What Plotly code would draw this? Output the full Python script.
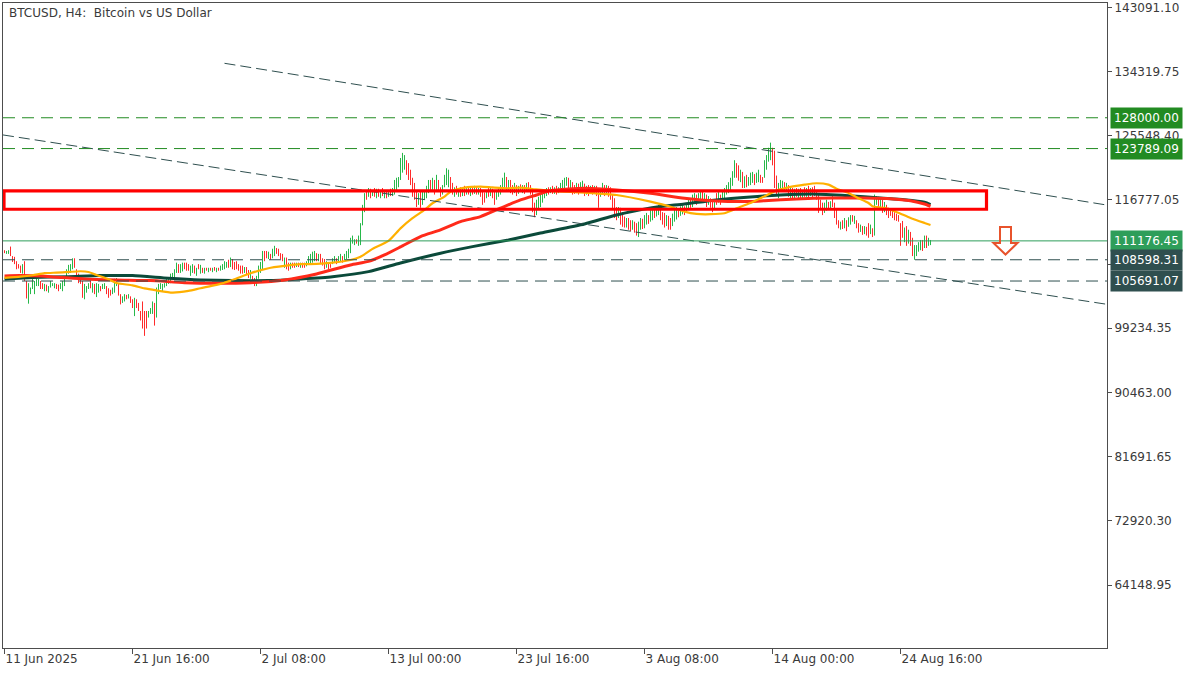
import plotly.graph_objects as go
import pandas as pd

# ---------------- data ----------------
START = pd.Timestamp("2025-06-11 00:00")
BAR_HOURS = 4

opens = [
    109900,109500,109600,110100,109100,108800,
    108300,107900,107600,106900,108000,105700,
    103000,104000,104700,104200,105200,105200,
    105600,105300,104500,105100,104200,104800,
    105100,104900,105200,105000,104700,104500,
    105000,106100,106800,107000,107400,108600,
    107300,106600,106000,105600,103500,104200,
    104700,105600,104400,105200,103800,104300,
    105000,104700,104800,104900,104600,104300,
    103900,104100,105200,105300,103900,102800,
    103000,103700,103400,103500,103000,101200,
    103000,102500,101600,102600,100800,100900,
    100800,101300,101300,102600,100900,104000,
    104700,104500,104900,105100,105400,105500,
    106100,106300,107000,108000,107000,107200,
    108100,108000,107900,106600,107000,107700,
    106600,107900,106800,107400,106800,107400,
    107000,107400,107000,107500,107000,107400,
    107200,107300,107500,107600,108500,107700,
    108600,108200,108300,107900,107600,107600,
    106900,107500,107100,106100,106300,106000,
    105100,106100,107000,107500,109700,109600,
    108900,109300,108900,109300,110100,110000,
    109400,109300,107600,108800,108100,107400,
    108100,108100,107700,108100,107600,108100,
    108000,107800,108000,108200,108300,108600,
    109400,108500,109300,108700,108600,107600,
    108100,108000,108100,108300,108800,108400,
    108500,109100,108500,108800,109000,109700,
    110900,110800,111400,110700,110800,113400,
    115200,118000,117300,118200,117300,118200,
    117200,118100,117200,118200,117200,117900,
    117200,118100,117400,117600,118400,118900,
    119500,120800,121200,122100,121700,120800,
    119700,119000,118000,116200,117800,116300,
    117000,117300,117900,119300,118300,119300,
    118300,119300,118500,117600,118600,118900,
    119200,119800,119000,117300,118600,117300,
    118400,117400,118600,117600,118400,117500,
    118300,117700,118400,117600,118300,118000,
    117700,117100,118300,117500,118100,118000,
    116900,117300,117600,118300,118600,119800,
    118100,119300,118600,117800,118700,117700,
    118900,117900,118700,118000,119000,118700,
    118000,116300,114900,115600,115900,116500,
    117100,117400,118500,117800,118600,117700,
    118600,117800,118000,118400,118600,118800,
    119700,118300,119100,118700,117800,118800,
    117900,118200,118900,117600,118600,117700,
    118600,117700,118600,118000,117300,117800,
    118700,117600,118600,118400,117300,116900,
    115700,114500,115600,115000,114400,113100,
    114200,114000,112800,113800,113500,111900,
    112800,114100,113000,113500,114600,113800,
    114200,115400,114600,114900,115800,115000,
    114800,113300,114500,114200,113300,113900,
    114300,115500,114700,115000,115900,115000,
    115500,116600,115900,116400,117400,116600,
    117000,117800,116700,117400,116200,117000,
    116400,115500,117600,116500,117400,116600,
    117300,117700,118000,118500,119000,120000,
    121600,121400,119400,120500,118500,120000,
    118700,119000,119300,120300,119200,119400,
    120100,119800,119900,121000,122100,122500,
    123800,123200,120000,117300,118300,118400,
    119100,118200,118600,117300,118300,117000,
    118300,117000,118300,117100,118400,117400,
    118600,117400,118400,118500,118000,117300,
    116600,116200,115100,115400,116400,115600,
    117100,116200,115300,114000,113000,113900,
    113000,114000,113200,113500,114600,113700,
    114000,113600,112500,113200,112300,113000,
    113400,112200,112800,112000,116200,117000,
    115600,116700,115300,116000,115500,115400,
    115300,115000,114800,114600,113600,113800,
    111200,113000,110900,112300,111500,108700,
    109300,110000,110100,111000,110400,111700,
    110600,110800,
]

highs = [
    109900,109800,109900,110400,109100,109000,
    108400,108000,107800,108000,108400,105700,
    105400,104800,106000,105700,106100,106000,
    105700,105400,105300,105200,105000,105700,
    105400,105400,105300,105200,105400,105700,
    106100,107300,107900,108000,108800,108800,
    107300,106700,106100,105700,105300,105000,
    105400,105700,105400,105300,105400,105300,
    105000,105300,105400,105000,104700,104500,
    104800,106000,106100,105400,103900,103600,
    103900,103800,103900,103600,103200,103400,
    103200,102700,101600,102900,101600,101600,
    101600,102000,102900,102700,104800,105300,
    105400,105300,105400,106000,106100,106700,
    106800,107300,108200,108000,108000,108200,
    108200,108200,108000,107800,108000,107800,
    107500,108000,107900,107500,107500,107500,
    107500,107500,107500,107600,107500,107500,
    107800,108000,108400,108300,108600,108900,
    108700,108300,108400,108000,107800,107800,
    107600,107600,107200,107200,106400,106100,
    106400,107800,108300,109800,109800,109800,
    109700,109400,110100,110500,110200,110100,
    109500,109400,108900,108900,108200,108200,
    108200,108200,108200,108200,108200,108200,
    108200,108400,109100,109400,109700,109800,
    109500,109400,109400,108800,108700,108400,
    108200,108000,108800,109100,108800,109100,
    109400,109100,109400,109800,110100,111600,
    111900,111400,111400,111900,113600,116100,
    117700,118100,118400,118300,118100,118400,
    118300,118300,118100,118400,118100,118100,
    118100,118300,118400,119500,119800,119900,
    122500,123200,122900,122200,121800,120900,
    119800,119100,118100,117700,117900,118100,
    118100,118700,119500,119500,119800,119500,
    120200,119500,118500,118800,120200,121100,
    120900,119900,119100,118500,118700,118400,
    118500,118400,118700,118400,118500,118400,
    118400,118700,118500,118400,118400,118100,
    117800,118100,118400,118500,118300,118100,
    117900,118400,118800,119800,120500,119900,
    119500,119500,118800,119100,118800,118700,
    118900,118800,118800,119100,119200,118800,
    118100,116400,116800,117200,117500,117900,
    118100,118400,118500,118500,118700,118500,
    118700,118500,119100,119500,119800,119900,
    119800,119500,119200,118800,119100,119000,
    119200,119400,119000,118700,118800,118700,
    118800,118700,118700,118100,118400,119100,
    118800,118800,118700,118500,117500,117000,
    115800,115800,115700,115100,114500,114300,
    114300,114000,114000,113800,113600,113800,
    114300,114200,114700,115000,114700,115400,
    115700,115500,115800,116100,115800,115100,
    115000,114700,114600,114300,114900,115400,
    115800,115600,115900,116200,115900,116300,
    116800,116800,117500,117700,117500,117700,
    118100,117900,117700,117500,117300,117000,
    116500,116800,117700,117900,117500,117900,
    118400,118800,119200,119800,120700,122200,
    121800,121500,120900,120600,120000,120200,
    119900,120500,120600,120300,120500,120900,
    120200,119900,122200,122900,123900,124600,
    123900,123500,120100,119100,119500,119400,
    119200,119100,118800,118400,118400,118300,
    118400,118300,118400,118100,118500,118400,
    118700,118400,118500,118700,118100,117500,
    116800,116400,116400,116800,116500,116600,
    117300,116400,115400,114000,113800,114000,
    114300,114000,114400,114700,114700,114600,
    114000,113600,113400,113200,113200,113100,
    113600,113400,112900,117500,117300,117200,
    117000,116800,116500,116100,115700,115500,
    115400,115100,114900,114700,113600,113900,
    113000,113200,112700,112400,111600,110600,
    110600,111000,111300,111300,111900,111900,
    111600,111300,
]

lows = [
    109500,109400,109400,109100,108300,108000,
    107300,107400,106800,106700,105700,103300,
    102600,103900,104600,103900,105000,105000,
    104600,104600,104300,104300,104100,104800,
    105000,104700,104600,104300,104600,104300,
    105000,106100,106700,106800,107300,107500,
    106000,105400,105300,103400,103200,104100,
    104600,104700,104100,103900,103500,104100,
    104300,104600,104600,103900,103400,103700,
    103900,104100,105000,103700,102500,102700,
    102900,103200,103300,102700,102000,100900,
    102000,101600,100300,99200,98200,99200,
    100700,101200,101200,99600,100700,103900,
    104600,104300,104800,105000,105300,105400,
    106000,106100,106800,106800,106800,107000,
    107300,107100,107100,106400,106800,106700,
    106400,107300,106700,106800,106700,107100,
    106900,107100,106900,107100,106900,107100,
    107100,107200,107300,107500,107500,107600,
    107300,107200,107300,107100,106700,106700,
    106800,106500,106100,106000,105300,105000,
    105000,106000,106800,107300,108400,108800,
    108700,108600,108800,109100,109400,109100,
    108700,108400,107500,107300,107100,107300,
    107500,107500,107600,107600,107500,107500,
    107500,107700,107900,108000,108200,108400,
    108400,108400,108000,107800,107300,107500,
    107300,107500,108000,108200,108000,108300,
    108400,108200,108400,108700,108800,109500,
    110800,110600,110800,110500,110600,113300,
    115100,116800,117200,117000,117300,117200,
    117000,117200,117000,117300,117000,117000,
    117200,117300,117300,117500,118100,118500,
    119500,120500,120900,120200,119500,118800,
    117200,116800,115800,116100,115700,116100,
    116800,117000,117700,117900,118100,117500,
    118100,117900,117200,117500,118500,118800,
    118500,118100,117500,117200,117500,117200,
    117200,117300,117300,117500,117500,117300,
    117500,117600,117500,117500,117200,116100,
    116400,117000,117200,117300,117000,116100,
    116800,117200,117500,118100,118400,118100,
    117900,117700,117500,117700,117300,117600,
    117900,117700,117600,117900,117900,117500,
    115100,114400,114700,115400,115800,116400,
    117000,117300,117500,117700,117600,117600,
    117500,117700,118000,118100,118400,118700,
    118100,118100,117500,117600,117700,117500,
    117900,118000,117300,117500,117300,117600,
    117500,117700,117300,115700,117200,117700,
    117300,117500,117200,116800,115400,114300,
    114000,114300,113400,113100,113000,113000,
    112700,112500,112700,112300,111900,111700,
    112700,112800,112900,113400,113500,113800,
    114000,114300,114500,114700,114000,113400,
    113000,113200,112700,112700,113200,113800,
    114100,114400,114600,114800,114700,115000,
    115400,115700,115800,116400,116100,116500,
    116800,116400,116500,115800,116100,115700,
    115100,115400,116100,116400,116100,116500,
    117000,117500,117700,118100,118700,119800,
    119800,119400,119200,118400,118400,118500,
    118700,118800,119100,118800,119100,119200,
    119100,119100,119800,120900,122000,122200,
    121500,118400,117500,117000,117900,118100,
    117900,118000,117200,117000,116800,116900,
    117200,116800,117000,116900,117200,117200,
    117000,117300,116900,117300,116800,115000,
    115400,114700,115000,115300,115400,115400,
    115800,114300,113400,112900,112700,112800,
    112900,112500,113100,113400,113800,113500,
    112900,112300,112400,112000,112100,111900,
    111600,112100,111700,111900,116100,115700,
    115400,115000,115100,114700,114300,114600,
    114300,114000,113900,113800,110500,111600,
    111000,110500,110800,110500,109100,108600,
    109100,109700,109900,109800,110200,110200,
    110500,110600,
]

closes = [
    109600,109700,109800,109300,108500,108200,
    107500,107500,107000,107800,105900,103600,
    105000,104600,105800,105400,105800,105800,
    104800,104800,105100,104400,104900,105600,
    105300,105300,104800,104400,105300,105500,
    105900,107100,107700,107800,108600,107700,
    106200,105600,105400,103700,105000,104800,
    105200,104900,105000,104100,105100,105000,
    104500,105100,105300,104100,103600,103800,
    104600,105700,105900,103900,102700,103400,
    103700,103300,103800,102900,102200,103000,
    102200,101800,100500,99600,98800,99600,
    101400,101800,102600,100000,104400,105100,
    105300,105100,105300,105800,106000,106400,
    106700,107100,108000,107000,107800,108000,
    107500,107300,107200,107600,107800,106900,
    107300,107400,107800,106900,107400,107200,
    107400,107200,107400,107200,107400,107200,
    107600,107900,108300,108200,107700,108700,
    107500,107300,107500,107200,106800,106800,
    107500,106700,106300,107000,105500,105200,
    106200,107600,108100,109600,108600,109000,
    109500,108700,109900,110300,109500,109300,
    108800,108500,108700,107500,107300,108000,
    107600,107600,108100,107700,108100,107600,
    107600,108300,109000,109200,109500,109600,
    108600,109300,108200,107900,107500,108300,
    107500,107600,108700,109000,108100,109000,
    109300,108300,109300,109600,109900,111400,
    111700,111300,110900,111700,113400,115900,
    117500,117000,118200,117200,118000,117400,
    118100,117400,117900,117500,117900,117200,
    118000,117500,118300,119300,119600,119800,
    122300,123000,122700,120400,119700,119000,
    117400,117000,116000,117500,115900,117900,
    117900,118500,119300,118100,119600,117700,
    120000,118100,117400,118600,120000,120900,
    120700,118300,117700,118300,117700,118200,
    117400,118200,117500,118300,117600,118200,
    117600,118500,117600,118300,117300,116300,
    116600,117900,117400,118400,117200,116300,
    117700,118200,118600,119600,120300,118300,
    119300,117900,117600,118900,117500,118500,
    118000,118600,117700,118900,118100,117600,
    115400,114600,116600,117000,117300,117700,
    118000,118300,117600,118400,117700,118400,
    117600,118400,118900,119300,119600,119800,
    118300,119300,117700,117800,118900,117600,
    119000,119200,117500,118500,117500,118500,
    117600,118600,117500,116000,118200,118900,
    117500,118600,117400,117000,115600,114500,
    114200,115600,113600,113300,113100,114100,
    112900,112700,113800,112500,112100,113600,
    114100,113000,114500,114800,113700,115200,
    115500,114500,115600,115900,114200,113600,
    113200,114500,112900,112800,114700,115200,
    115600,114600,115700,116000,114900,116100,
    116600,115800,117300,117500,116300,117600,
    117900,116600,117600,116000,117100,115900,
    115300,116600,116300,117700,116300,117700,
    118200,118600,119000,119600,120500,122000,
    120000,119600,120700,118600,119800,118700,
    119800,120300,120400,119000,120300,120700,
    119300,119200,122000,122700,123700,124400,
    121700,118700,117700,118900,119300,119200,
    118100,118900,117400,118200,117000,118100,
    117400,118100,117200,117900,117400,118200,
    117200,118200,117100,117500,117000,115200,
    115600,114900,116200,116600,115600,116500,
    116000,114500,113600,113000,113600,113000,
    114100,112700,114300,114500,113900,114400,
    113000,112400,113200,112200,113000,112000,
    111800,113200,111900,117200,117100,115900,
    116800,115200,116300,114900,114500,114700,
    114400,114100,114000,113900,110700,111800,
    112800,110700,112500,110700,109300,110400,
    110400,110900,111100,110000,111700,110400,
    111400,111176,
]

# moving averages (bar index -> value)
ma_fast_idx = [0,8,14,20,26,32,38,42,46,52,56,64,70,76,84,92,98,106,114,123,132,140,148,156,164,
               173,178,184,192,198,204,210,214,220,223,230,238,244,252,258,264,273,290,306,323,333,
               340,346,353,360,368,373,380,386,393,400,406,412,416,422,426,432,434,440,446,453,460,463]
ma_fast_val = [106120,106290,106480,106760,106840,106930,107030,106930,106520,105940,105430,105090,
               104680,104410,104110,104340,104710,105160,105840,106760,107440,107750,107990,108030,
               108210,108570,109020,110080,111170,112880,114270,115400,116320,117220,117900,118450,
               118590,118480,118370,118450,118270,118000,117770,117450,116540,115850,115170,114860,
               114820,114950,115850,116360,117280,118040,118550,118860,119050,118860,118310,117730,
               117140,116360,115910,115680,115130,114310,113630,113350]

ma_mid_idx = [0,8,23,40,56,73,90,106,123,140,156,173,182,190,198,208,218,228,238,248,258,266,273,
              282,290,306,323,340,356,373,380,396,413,430,443,453,460,463]
ma_mid_val = [106390,106430,106290,105980,105840,105750,105470,105390,105470,105840,106660,107890,
              108370,109260,110350,111760,112670,113810,114490,115640,116770,117450,118040,118270,
              118370,118140,117690,117000,116630,116570,116670,116910,117040,117040,116950,116670,
              116220,115910]

ma_slow_idx = [0,14,32,48,64,82,98,114,132,148,164,182,198,218,234,252,268,290,306,323,340,356,373,
               388,404,422,438,450,460,463]
ma_slow_val = [105940,106160,106290,106430,106430,106070,105840,105750,105750,105980,106290,106980,
               108160,109490,110390,111310,112260,113490,114720,115680,116220,116770,117180,117450,
               117590,117360,117040,116810,116460,116130]

# trend channel (bar index -> price)
trend_upper_idx = [110, 551.25]
trend_upper_val = [135440, 116070]
trend_lower_idx = [-0.75, 551.25]
trend_lower_val = [125650, 102510]

# resistance zone
zone_low, zone_high = 115500, 118000
zone_start_idx, zone_end_idx = 0, 491

# horizontal levels
levels = [128000.00, 123789.09, 111176.45, 108598.31, 105691.07]
level_text = ["128000.00", "123789.09", "111176.45", "108598.31", "105691.07"]

x_tick_idx = [0, 64, 128, 192, 256, 320, 384, 448]
x_tick_text = ["11 Jun 2025", "21 Jun 16:00", "2 Jul 08:00", "13 Jul 00:00",
               "23 Jul 16:00", "3 Aug 08:00", "14 Aug 00:00", "24 Aug 16:00"]

y_tick_vals = [143091.10, 134319.75, 125548.40, 116777.05, 108005.70, 99234.35,
               90463.00, 81691.65, 72920.30, 64148.95]
y_tick_text = ["143091.10", "134319.75", "125548.40", "116777.05", "", "99234.35",
               "90463.00", "81691.65", "72920.30", "64148.95"]

# ---------------- styling ----------------
W, H = 1200, 675
PL, PR, PT, PB = 3, 1107, 3, 648
GREEN = "#27b84a"
RED = "#ff2b2b"
AXIS = "#4d4d4d"
TXT = "#3a3a3a"
FONT = "DejaVu Sans"
FOREST = "#228B22"
SEA = "#2e9e5a"
SLATE = "#2F4F4F"


def t(k):
    return START + pd.Timedelta(hours=BAR_HOURS * k)


n = min(len(opens), len(highs), len(lows), len(closes))
times = [t(i) for i in range(n)]

fig = go.Figure()

fig.add_trace(go.Ohlc(
    x=times, open=opens[:n], high=highs[:n], low=lows[:n], close=closes[:n],
    increasing=dict(line=dict(color=GREEN, width=1)),
    decreasing=dict(line=dict(color=RED, width=1)),
    tickwidth=0, showlegend=False, hoverinfo="skip",
))

for idx, vals, col, wd in [
    (ma_slow_idx, ma_slow_val, "#0b4a3a", 3),
    (ma_mid_idx, ma_mid_val, "#ff2a1a", 3),
    (ma_fast_idx, ma_fast_val, "#ffb000", 2.2),
]:
    fig.add_trace(go.Scatter(
        x=[t(i) for i in idx], y=vals, mode="lines",
        line=dict(color=col, width=wd, shape="spline", smoothing=0.6),
        showlegend=False, hoverinfo="skip",
    ))

for idx, vals in [(trend_upper_idx, trend_upper_val), (trend_lower_idx, trend_lower_val)]:
    fig.add_trace(go.Scatter(
        x=[t(i) for i in idx], y=vals, mode="lines",
        line=dict(color=SLATE, width=1, dash="11px,5px"),
        showlegend=False, hoverinfo="skip",
    ))

shapes = []
level_line_col = [FOREST, FOREST, SEA, SLATE, SLATE]
level_dash = ["12px,7px", "12px,7px", "solid", "12px,7px", "12px,7px"]
for lv, c, d in zip(levels, level_line_col, level_dash):
    shapes.append(dict(type="line", xref="paper", yref="y", x0=0, x1=1, y0=lv, y1=lv,
                       line=dict(color=c, width=1, dash=d), layer="above"))

shapes.append(dict(type="rect", xref="x", yref="y",
                   x0=t(zone_start_idx - 0.25), x1=t(zone_end_idx),
                   y0=zone_low, y1=zone_high,
                   line=dict(color="#ff0000", width=3.2), fillcolor="rgba(0,0,0,0)",
                   layer="above"))


def px2paper(X, Y):
    return (X - PL) / (PR - PL), (PB - Y) / (PB - PT)


arrow_px = [(1000, 227), (1011, 227), (1011, 243), (1017.5, 243),
            (1005.5, 254.5), (993.5, 243), (1000, 243)]
pts = [px2paper(X, Y) for X, Y in arrow_px]
path = "M " + " L ".join(f"{a:.5f},{b:.5f}" for a, b in pts) + " Z"
shapes.append(dict(type="path", xref="paper", yref="paper", path=path,
                   line=dict(color="#e8532c", width=2), fillcolor="rgba(255,255,255,0)",
                   layer="above"))

annotations = []
label_bg = [FOREST, FOREST, SEA, SLATE, SLATE]
lx, _ = px2paper(1110, 0)
for lv, txt, bg in zip(levels, level_text, label_bg):
    annotations.append(dict(
        xref="paper", yref="y", x=lx, y=lv, xanchor="left", yanchor="middle",
        text=txt, showarrow=False, bgcolor=bg, borderpad=3,
        font=dict(family=FONT, size=12, color="white"),
    ))

tx, ty = px2paper(7, 12.5)
annotations.append(dict(
    xref="paper", yref="paper", x=tx, y=ty, xanchor="left", yanchor="middle",
    text="BTCUSD, H4:\u00a0 Bitcoin vs US Dollar", showarrow=False,
    font=dict(family=FONT, size=12, color=TXT),
))

fig.update_layout(
    width=W, height=H,
    margin=dict(l=PL, r=W - PR, t=PT, b=H - PB),
    paper_bgcolor="white", plot_bgcolor="white",
    hovermode=False, showlegend=False,
    shapes=shapes, annotations=annotations,
    font=dict(family=FONT, size=12, color=TXT),
    xaxis=dict(
        type="date", range=[t(-0.75), t(551.25)],
        rangeslider=dict(visible=False),
        showgrid=False, zeroline=False,
        showline=True, mirror=True, linecolor=AXIS, linewidth=1,
        ticks="outside", ticklen=5, tickcolor=AXIS, tickwidth=1,
        tickvals=[t(i) for i in x_tick_idx], ticktext=x_tick_text,
        ticklabelposition="outside right",
        tickfont=dict(family=FONT, size=12, color=TXT),
        automargin=False, fixedrange=True,
    ),
    yaxis=dict(
        side="right", range=[55552, 143679],
        showgrid=False, zeroline=False,
        showline=True, mirror=True, linecolor=AXIS, linewidth=1,
        ticks="outside", ticklen=4, tickcolor=AXIS, tickwidth=1,
        tickvals=y_tick_vals, ticktext=y_tick_text,
        tickfont=dict(family=FONT, size=12, color=TXT),
        automargin=False, fixedrange=True,
    ),
)

fig.write_html(
    "out.html",
    config={"displayModeBar": False},
    post_script="document.body.style.margin='0px';document.body.style.overflow='hidden';",
)
